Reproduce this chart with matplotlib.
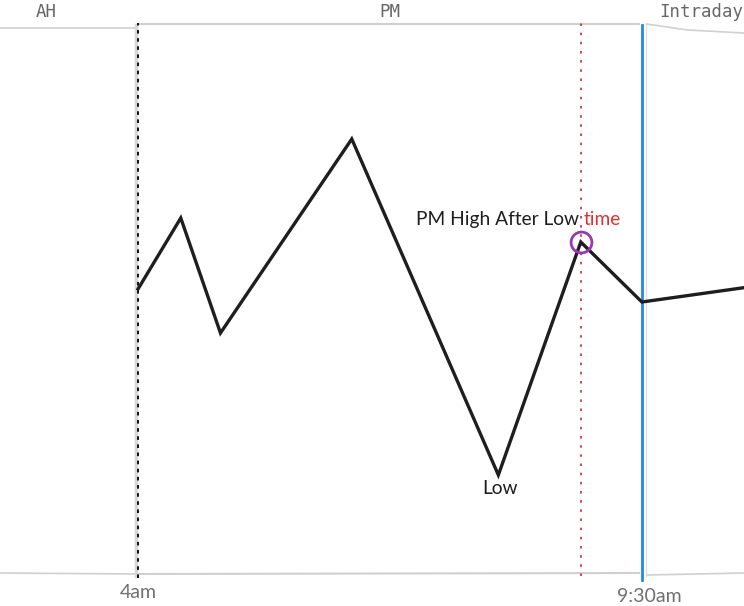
import matplotlib
matplotlib.use("Agg")
import matplotlib.pyplot as plt

# price path, minutes after 4am vs price
times = [0, 28, 54, 140, 236, 290, 330, 400]
prices = [21.1, 28.2, 16.7, 36.1, 2.5, 25.8, 19.8, 21.3]

# session markers
open_pm = 0        # 4am
high_time = 290    # PM high after low
open_rth = 330     # 9:30am
session_labels = ["AH", "PM", "Intraday"]
session_x = [-60, 165, 369]
tick_labels = ["4am", "9:30am"]

fig = plt.figure(figsize=(7.44, 6.06), dpi=100)
ax = fig.add_axes([0, 0, 1, 1])
ax.set_xlim(-90.4, 396.9)
ax.set_ylim(-10.6, 50.0)
ax.axis("off")

top, bottom = 47.5, -7.6

# light frame lines (sketchy pieces)
grey = "#d0d0d0"
ax.plot([-90.4, -1.5], [47.2, 47.2], color=grey, lw=1.2)
ax.plot([1, 328], [47.6, 47.6], color=grey, lw=1.5)
ax.plot([333, 360, 396.9], [47.6, 47.0, 46.7], color=grey, lw=1.2)
ax.plot([-90.4, -1.5], [bottom + 0.3, bottom + 0.2], color=grey, lw=1.2)
ax.plot([1, 328], [bottom + 0.2, bottom + 0.3], color=grey, lw=1.5)
ax.plot([333, 396.9], [bottom + 0.1, bottom + 0.3], color=grey, lw=1.2)

# vertical markers
ax.plot([open_pm - 1.2, open_pm - 1.2], [bottom, top], color="#d8d8d8", lw=2.5)
ax.plot([open_pm, open_pm], [bottom - 0.2, top + 0.2], color="black", lw=1.3, ls=(0, (2, 2.5)))
ax.plot([high_time, high_time], [bottom, top + 0.5], color="#c92a2a", lw=1.2, ls=(0, (1.5, 4)))
ax.plot([open_rth, open_rth], [bottom - 0.4, top], color="#228be6", lw=2)
ax.plot([open_rth + 2.5, open_rth + 2.5], [bottom, top], color="#e0e0e0", lw=1)

# price path
ax.plot(times, prices, color="#1e1e1e", lw=2.4, solid_joinstyle="miter")

# high marker
ax.plot([high_time], [prices[5]], marker="o", ms=15, mfc="none", mec="#9c36b5", mew=2)

# annotations
txt_font = ["Lato", "DejaVu Sans"]
ax.text(high_time - 1, prices[5] + 1.4, "PM High After Low", ha="right", va="bottom",
        fontsize=13.8, color="#1e1e1e", family=txt_font)
ax.text(high_time + 2, prices[5] + 1.4, "time", ha="left", va="bottom",
        fontsize=13.8, color="#e03131", family=txt_font)
ax.text(times[4] + 1, prices[4] - 0.5, "Low", ha="center", va="top",
        fontsize=13.8, color="#1e1e1e", family=txt_font)

# session headers
hand = ["DejaVu Sans Mono"]
for lab, x in zip(session_labels, session_x):
    ax.text(x, 48.8, lab, ha="center", va="center", fontsize=12.5, color="#666666", family=hand)

# time ticks
ax.text(open_pm, bottom - 0.8, tick_labels[0], ha="center", va="top", fontsize=14,
        color="#707070", family=txt_font)
ax.text(open_rth + 5, bottom - 1.2, tick_labels[1], ha="center", va="top", fontsize=14,
        color="#707070", family=txt_font)

fig.savefig("out.png", dpi=100, facecolor="white")
